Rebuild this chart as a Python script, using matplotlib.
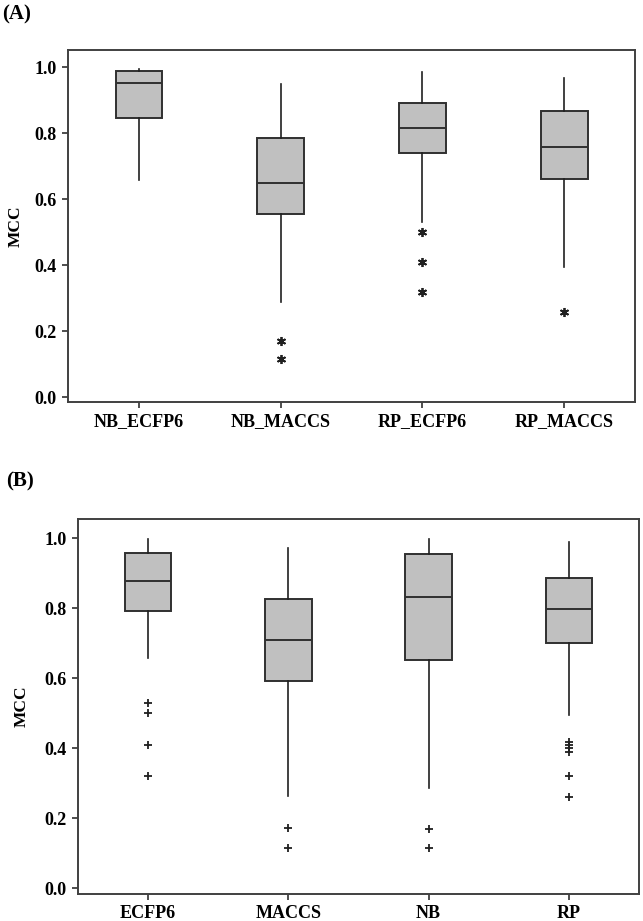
import matplotlib.pyplot as plt

# panel A: box statistics
labels_a = ['NB_ECFP6', 'NB_MACCS', 'RP_ECFP6', 'RP_MACCS']
whislo_a = [0.657, 0.288, 0.531, 0.395]
q1_a = [0.847, 0.555, 0.739, 0.661]
med_a = [0.951, 0.649, 0.816, 0.758]
q3_a = [0.987, 0.784, 0.890, 0.866]
whishi_a = [0.994, 0.948, 0.984, 0.966]
fliers_a = [[], [0.170, 0.115], [0.499, 0.409, 0.319], [0.258]]

# panel B
labels_b = ['ECFP6', 'MACCS', 'NB', 'RP']
whislo_b = [0.658, 0.264, 0.286, 0.495]
q1_b = [0.791, 0.593, 0.652, 0.700]
med_b = [0.879, 0.709, 0.832, 0.797]
q3_b = [0.959, 0.827, 0.956, 0.887]
whishi_b = [0.998, 0.971, 0.997, 0.988]
fliers_b = [[0.530, 0.500, 0.409, 0.321], [0.172, 0.115], [0.171, 0.114],
            [0.419, 0.409, 0.400, 0.390, 0.321, 0.260]]

plt.rcParams['font.family'] = ['Liberation Serif', 'DejaVu Serif']
plt.rcParams['font.weight'] = 'bold'

edge = '#303030'


def make_stats(labels, lo, q1, med, q3, hi, fliers):
    stats = []
    for i in range(len(labels)):
        stats.append({'label': labels[i], 'whislo': lo[i], 'q1': q1[i],
                      'med': med[i], 'q3': q3[i], 'whishi': hi[i],
                      'fliers': fliers[i]})
    return stats


def draw_panel(ax, stats, marker, msize):
    ax.bxp(stats, widths=0.33, patch_artist=True, showcaps=False,
           boxprops=dict(facecolor='#c0c0c0', edgecolor=edge, linewidth=1.4),
           medianprops=dict(color=edge, linewidth=1.4),
           whiskerprops=dict(color='#202020', linewidth=1.2),
           flierprops=dict(marker=marker, markersize=msize, markeredgecolor='#202020',
                           markerfacecolor='#202020', markeredgewidth=1.3))
    ax.set_xlim(0.5, 4.5)
    ax.set_yticks([0.0, 0.2, 0.4, 0.6, 0.8, 1.0])
    ax.set_yticklabels(['0.0', '0.2', '0.4', '0.6', '0.8', '1.0'])
    ax.tick_params(axis='both', direction='out', length=4, width=1.2,
                   color='#303030', labelsize=13, pad=4)
    for lab in ax.get_xticklabels() + ax.get_yticklabels():
        lab.set_fontweight('bold')
    for s in ax.spines.values():
        s.set_color('#404040')
        s.set_linewidth(1.4)
    ax.set_ylabel('MCC', fontsize=12.5, fontweight='bold')


fig = plt.figure(figsize=(6.43, 9.21), dpi=100)

ax1 = fig.add_axes([0.1058, 0.5635, 0.8818, 0.3822])
draw_panel(ax1, make_stats(labels_a, whislo_a, q1_a, med_a, q3_a, whishi_a, fliers_a),
           (6, 2, 0), 6.5)
ax1.set_ylim(-0.015, 1.0515)
ax1.yaxis.set_label_coords(-0.078, 0.5)

ax2 = fig.add_axes([0.1213, 0.0293, 0.8725, 0.4069])
draw_panel(ax2, make_stats(labels_b, whislo_b, q1_b, med_b, q3_b, whishi_b, fliers_b),
           '+', 6)
ax2.set_ylim(-0.016, 1.054)
ax2.yaxis.set_label_coords(-0.086, 0.5)

fig.text(0.004, 0.995, '(A)', fontsize=15, fontweight='bold', va='top', ha='left')
fig.text(0.010, 0.488, '(B)', fontsize=15, fontweight='bold', va='top', ha='left')

fig.savefig('out.png', dpi=100)
